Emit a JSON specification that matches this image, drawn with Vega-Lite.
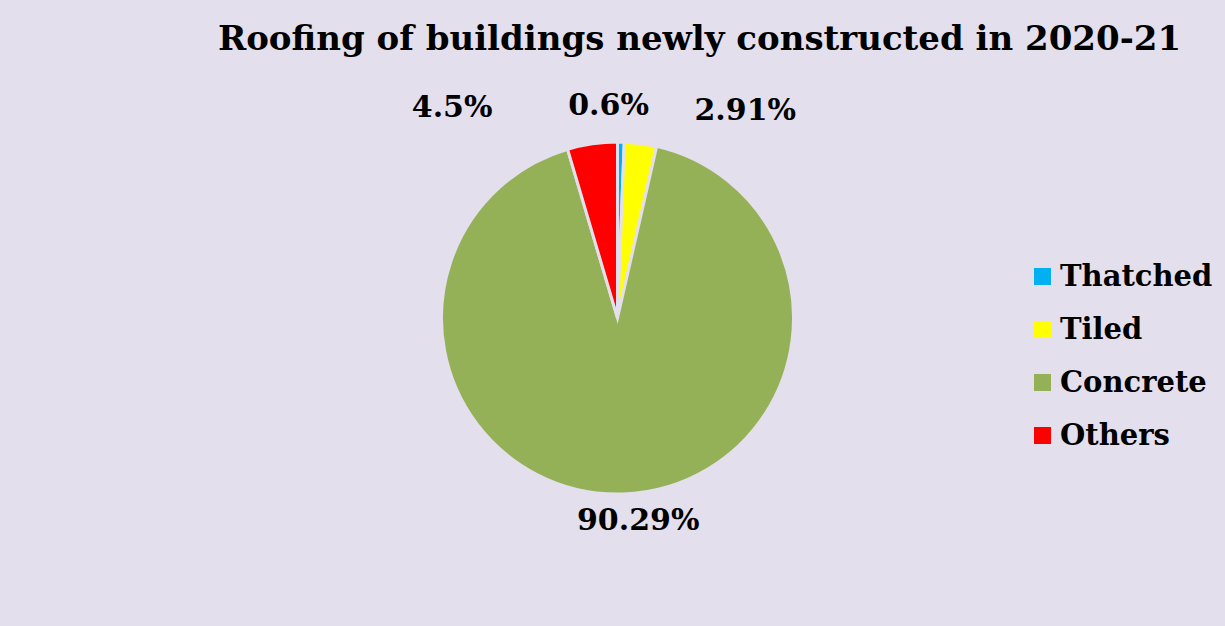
{
  "$schema": "https://vega.github.io/schema/vega-lite/v6.json",
  "autosize": {"type": "pad"},
  "width": 1215,
  "height": 512,
  "padding": {"left": 10, "top": 23, "right": 0, "bottom": 52},
  "background": "#E4DFEC",
  "view": {"fill": null, "stroke": null},
  "config": {
    "font": "DejaVu Serif",
    "legend": {
      "orient": "none",
      "legendX": 1018,
      "legendY": 200,
      "padding": 0,
      "labelFont": "DejaVu Serif",
      "labelFontSize": 29,
      "labelFontWeight": "bold",
      "labelColor": "black",
      "symbolType": "square",
      "symbolSize": 289,
      "symbolStrokeWidth": 0,
      "rowPadding": 23,
      "labelOffset": 3
    }
  },
  "title": {
    "text": "Roofing of buildings newly constructed in 2020-21",
    "font": "DejaVu Serif",
    "fontSize": 34,
    "fontWeight": "bold",
    "color": "black",
    "anchor": "middle",
    "offset": 5,
    "dx": 82
  },
  "data": {
    "values": [
      {"category": "Thatched", "percent": 0.6, "label": "0.6%", "rank": 1},
      {"category": "Tiled", "percent": 2.91, "label": "2.91%", "rank": 2},
      {"category": "Concrete", "percent": 90.29, "label": "90.29%", "rank": 3},
      {"category": "Others", "percent": 4.5, "label": "4.5%", "rank": 4}
    ]
  },
  "encoding": {
    "theta": {"field": "percent", "type": "quantitative", "stack": true},
    "order": {"field": "rank", "type": "quantitative"}
  },
  "layer": [
    {
      "mark": {"type": "arc", "outerRadius": 176, "stroke": "#E4DFEC", "strokeWidth": 3},
      "encoding": {
        "color": {
          "field": "category",
          "type": "nominal",
          "title": null,
          "scale": {
            "domain": ["Thatched", "Tiled", "Concrete", "Others"],
            "range": ["#00B0F0", "#FFFF00", "#94B157", "#FF0000"]
          }
        }
      }
    },
    {
      "mark": {
        "type": "text",
        "radius": 212,
        "font": "DejaVu Serif",
        "fontSize": 30,
        "fontWeight": "bold",
        "color": "black",
        "align": "center",
        "baseline": "middle",
        "dx": {"expr": "datum.category === 'Others' ? -135 : datum.category === 'Thatched' ? -13 : datum.category === 'Tiled' ? 100 : 14"},
        "dy": {"expr": "datum.category === 'Concrete' ? -9 : datum.category === 'Tiled' ? 3 : 0"}
      },
      "encoding": {
        "text": {"field": "label", "type": "nominal"}
      }
    }
  ]
}
